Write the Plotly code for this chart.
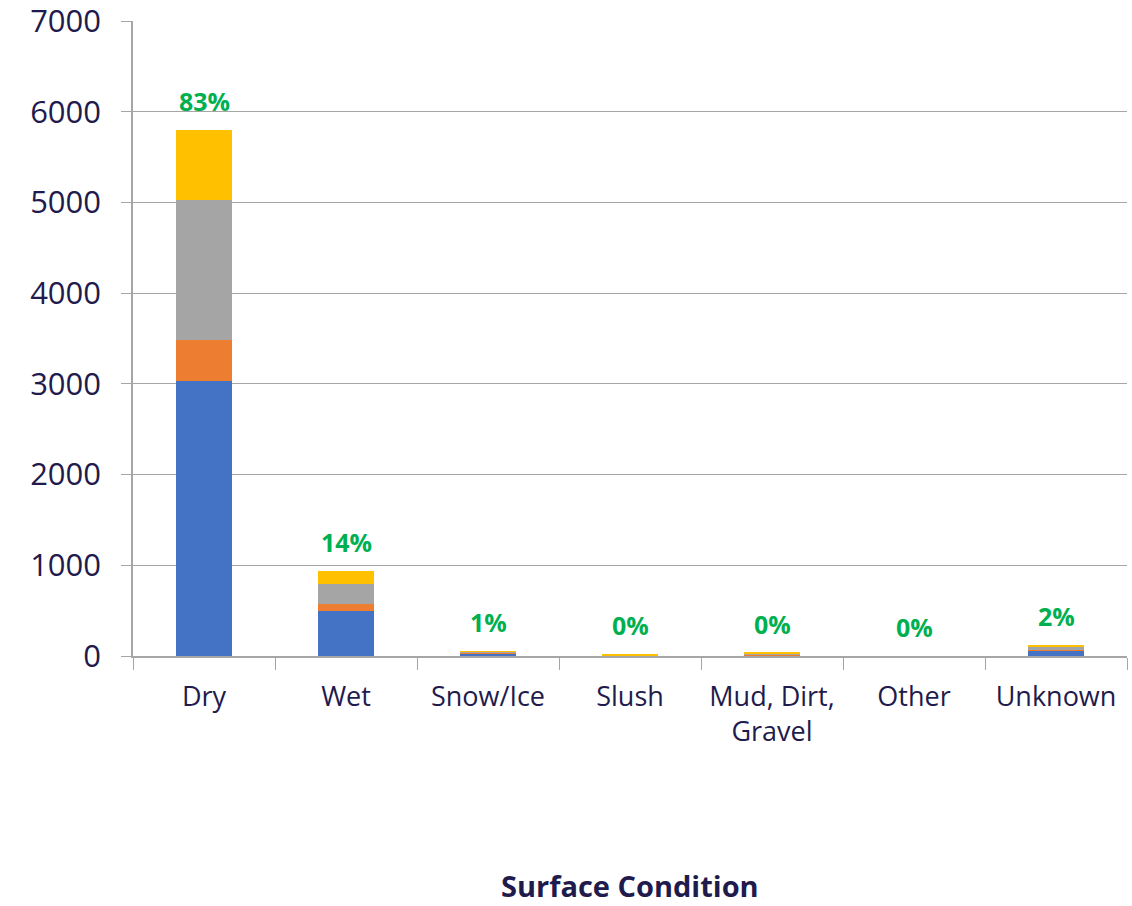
import plotly.graph_objects as go

categories = ["Dry", "Wet", "Snow/Ice", "Slush", "Mud, Dirt,<br>Gravel", "Other", "Unknown"]
series_blue = [3030, 495, 30, 5, 10, 0, 58]
series_orange = [450, 80, 5, 0, 2, 0, 5]
series_gray = [1545, 220, 10, 5, 16, 0, 35]
series_yellow = [775, 142, 10, 14, 6, 0, 27]
pct_labels = ["83%", "14%", "1%", "0%", "0%", "0%", "2%"]
y_ticks = [0, 1000, 2000, 3000, 4000, 5000, 6000, 7000]

colors = ['#4472C4', '#ED7D31', '#A5A5A5', '#FFC000']
font_family = '"Open Sans", Lato, sans-serif'
navy = '#1f1b4d'

fig = go.Figure()
for vals, c in zip([series_blue, series_orange, series_gray, series_yellow], colors):
	fig.add_trace(go.Bar(x=categories, y=vals, marker_color=c, marker_line_width=0,
		showlegend=False, hoverinfo='skip'))

totals = [a + b + c + d for a, b, c, d in zip(series_blue, series_orange, series_gray, series_yellow)]
for cat, tot, lab in zip(categories, totals, pct_labels):
	fig.add_annotation(x=cat, y=tot, text='<b>' + lab + '</b>', showarrow=False,
		yanchor='bottom', yshift=10, font=dict(size=25, color='#00B050', family=font_family))

# axis title sits far below the tick labels, so place it as an annotation
fig.add_annotation(xref='paper', yref='paper', x=0.5, y=-0.362, text='<b>Surface Condition</b>',
	showarrow=False, yanchor='middle', borderpad=0,
	font=dict(size=29, color=navy, family=font_family))

fig.update_layout(
	barmode='stack',
	bargap=0.6,
	width=1132, height=906,
	margin=dict(l=133, r=5, t=21, b=250),
	paper_bgcolor='white', plot_bgcolor='white',
	font=dict(family=font_family))
fig.update_yaxes(
	range=[0, 7000], tickvals=y_ticks,
	showgrid=True, gridcolor='#A6A6A6', gridwidth=1,
	showline=True, linecolor='#A6A6A6', linewidth=1.5,
	ticks='outside', ticklen=10, tickcolor='#A6A6A6',
	ticklabelstandoff=14, ticklabeloverflow='allow',
	tickfont=dict(size=31, color=navy, family=font_family),
	zeroline=False, automargin=False)
fig.update_xaxes(
	showline=True, linecolor='#A6A6A6', linewidth=1.5,
	ticks='outside', tickson='boundaries', ticklen=12, tickcolor='#A6A6A6',
	tickfont=dict(size=27, color=navy, family=font_family),
	ticklabelstandoff=16, automargin=False)

# drop the default page margin so the figure fills the window exactly
fig.write_html("out.html", config={'displayModeBar': False},
	post_script="document.body.style.margin='0';")
